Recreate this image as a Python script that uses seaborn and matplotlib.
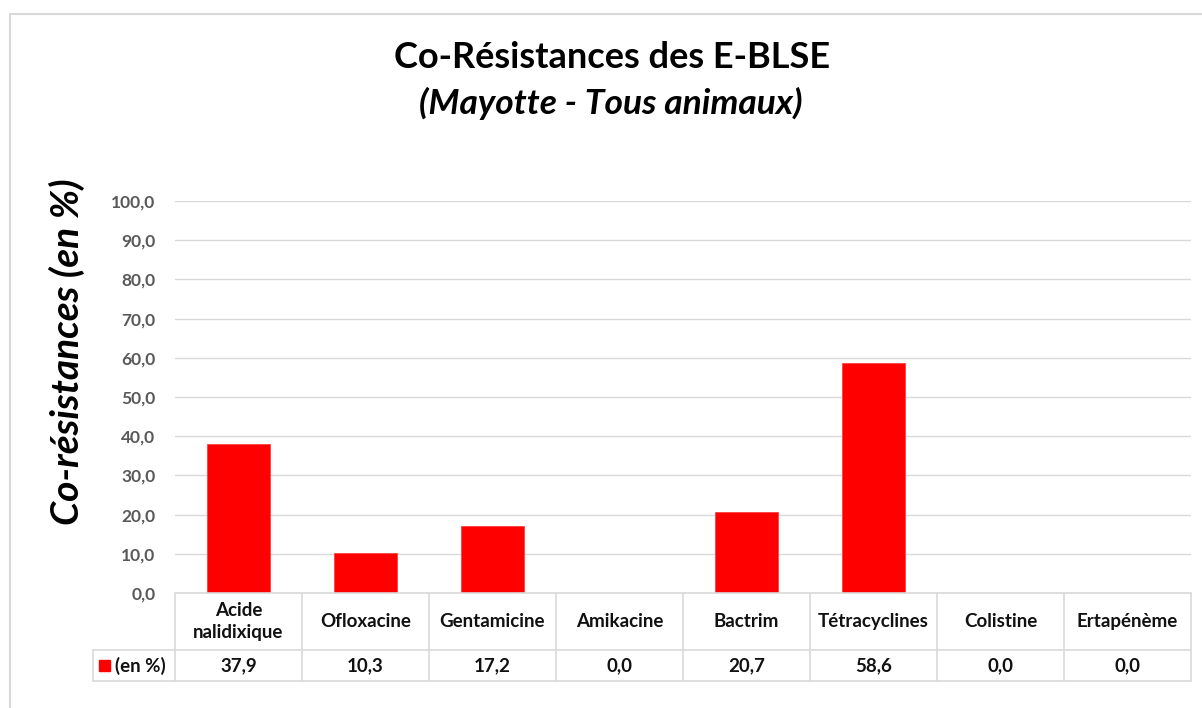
import matplotlib
matplotlib.use("Agg")
import matplotlib.pyplot as plt
import seaborn as sns
import pandas as pd
from matplotlib.transforms import blended_transform_factory
from matplotlib.patches import Rectangle
from matplotlib.lines import Line2D

categories = ["Acide\nnalidixique", "Ofloxacine", "Gentamicine", "Amikacine",
              "Bactrim", "Tétracyclines", "Colistine", "Ertapénème"]
values = [37.9, 10.3, 17.2, 0.0, 20.7, 58.6, 0.0, 0.0]
value_labels = ["37,9", "10,3", "17,2", "0,0", "20,7", "58,6", "0,0", "0,0"]
series_name = "(en %)"
yticks = [0, 10, 20, 30, 40, 50, 60, 70, 80, 90, 100]

sns.set_theme(style="white")
plt.rcParams['font.family'] = ['Lato', 'DejaVu Sans']

W, H = 1202, 708
fig = plt.figure(figsize=(W / 100, H / 100), dpi=100)

def fx(px):
    return px / W

def fy(py):
    return 1 - py / H

# chart border
fig.add_artist(Rectangle((fx(10), fy(740)), fx(1220) - fx(10), fy(14) - fy(740),
                         transform=fig.transFigure, fill=False,
                         edgecolor="#d9d9d9", lw=1.5))

ax = fig.add_axes([fx(175), fy(593), fx(1191) - fx(175), fy(201) - fy(593)])
df = pd.DataFrame({"cat": categories, "val": values})
sns.barplot(data=df, x="cat", y="val", color="#ff0000", width=0.5,
            saturation=1, ax=ax, zorder=3)
for p in ax.patches:
    p.set_edgecolor("#ff4040")
    p.set_linewidth(0.6)

ax.set_xlim(-0.5, len(categories) - 0.5)
ax.set_ylim(0, 100)
ax.set_yticks(yticks)
ax.set_yticklabels([f"{v:.1f}".replace(".", ",") for v in yticks],
                   fontsize=12.5, fontweight="bold", color="#595959")
ax.tick_params(axis="y", length=0, pad=14)
ax.set_xticks([])
ax.set_xlabel("")
ax.set_ylabel("")
for s in ax.spines.values():
    s.set_visible(False)
ax.yaxis.grid(True, color="#d9d9d9", lw=1)
ax.set_axisbelow(True)

# data table
tr = blended_transform_factory(ax.transData, fig.transFigure)
grid_c = "#d9d9d9"
n = len(categories)
y_top, y_mid, y_bot = fy(593), fy(650), fy(681)
left_x = -0.5 - (175 - 93) / 127.0
fig.add_artist(Line2D([-0.5, n - 0.5], [y_top, y_top], transform=tr, color=grid_c, lw=1.2))
fig.add_artist(Line2D([left_x, n - 0.5], [y_mid, y_mid], transform=tr, color=grid_c, lw=1.2))
fig.add_artist(Line2D([left_x, n - 0.5], [y_bot, y_bot], transform=tr, color=grid_c, lw=1.2))
for i in range(n + 1):
    fig.add_artist(Line2D([i - 0.5, i - 0.5], [y_top, y_bot], transform=tr, color=grid_c, lw=1.2))
fig.add_artist(Line2D([left_x, left_x], [y_mid, y_bot], transform=tr, color=grid_c, lw=1.2))

tfs = 13.5
for i, (c, v) in enumerate(zip(categories, value_labels)):
    fig.text(i, (y_top + y_mid) / 2, c, transform=tr, ha="center", va="center",
             fontsize=tfs, fontweight="bold", color="#111111", linespacing=1.4)
    fig.text(i, (y_mid + y_bot) / 2, v, transform=tr, ha="center", va="center",
             fontsize=tfs, fontweight="bold", color="#111111")

# legend key in row header
fig.add_artist(Rectangle((fx(99), fy(671)), fx(11), fy(660) - fy(671),
                         transform=fig.transFigure, color="#ff0000"))
fig.text(fx(115), (y_mid + y_bot) / 2, series_name, ha="left", va="center",
         fontsize=tfs, fontweight="bold", color="#111111")

# titles
fig.text(fx(612), fy(58), "Co-Résistances des E-BLSE", ha="center", va="center",
         fontsize=26, fontweight="bold", color="black")
fig.text(fx(611), fy(103), "(Mayotte - Tous animaux)", ha="center", va="center",
         fontsize=25.5, fontweight="bold", fontstyle="italic", color="black")
fig.text(fx(67), fy(352), "Co-résistances (en %)", rotation=90, ha="center",
         va="center", fontsize=28, fontweight="bold", fontstyle="italic",
         color="black")

fig.savefig("out.png", dpi=100)
